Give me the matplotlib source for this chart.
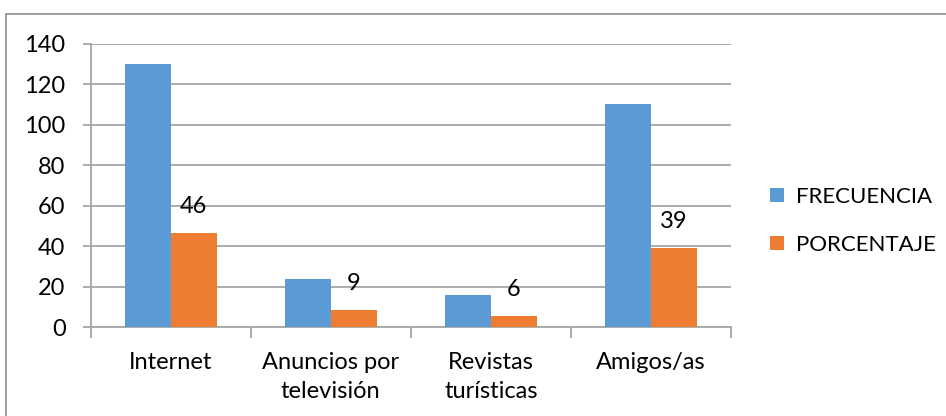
import numpy as np
import matplotlib
matplotlib.use("Agg")
import matplotlib.pyplot as plt
from matplotlib.patches import Rectangle

categories = ["Internet", "Anuncios por\ntelevisión", "Revistas\nturísticas", "Amigos/as"]
frecuencia = [130, 24, 16, 110]
porcentaje = [46.4, 8.6, 5.7, 39.3]
yticks = [0, 20, 40, 60, 80, 100, 120, 140]

plt.rcParams['font.family'] = ['Lato', 'DejaVu Sans']

blue = "#5B9BD5"
orange = "#ED7D31"
grid_c = "#A6A6A6"
fs = 17

fig = plt.figure(figsize=(9.46, 4.16), dpi=100)
ax = fig.add_axes([0.0957, 0.2132, 0.677, 0.6818])

x = np.arange(len(categories))
w = 0.2875
ax.bar(x - w/2, frecuencia, w, color=blue, label="FRECUENCIA", zorder=3)
ax.bar(x + w/2, porcentaje, w, color=orange, label="PORCENTAJE", zorder=3)

for xi, v in zip(x, porcentaje):
    ax.annotate(f"{v:.0f}", (xi + w/2, v), xytext=(0, 19), textcoords="offset points",
                ha="center", va="center", fontsize=fs, color="black")

ax.set_xlim(-0.5, len(categories) - 0.5)
ax.set_ylim(0, 140)
ax.set_yticks(yticks)
ax.set_yticklabels([str(t) for t in yticks], fontsize=fs)
ax.yaxis.grid(True, color=grid_c, linewidth=1.3, zorder=0)
ax.set_axisbelow(True)

# category ticks at boundaries, labels at centers
ax.set_xticks(np.arange(-0.5, len(categories)), minor=False)
ax.set_xticklabels([])
ax.set_xticks(x, minor=True)
ax.set_xticklabels(categories, minor=True, fontsize=fs, linespacing=1.45)
ax.tick_params(axis="x", which="major", length=8, color=grid_c, width=1.3)
ax.tick_params(axis="x", which="minor", length=0, pad=18)
ax.tick_params(axis="y", length=6, color=grid_c, width=1.3, pad=12)

for s in ["top", "right"]:
    ax.spines[s].set_visible(False)
ax.spines["left"].set_color(grid_c)
ax.spines["bottom"].set_color(grid_c)
ax.spines["left"].set_linewidth(1.3)
ax.spines["bottom"].set_linewidth(1.3)

ax.legend(loc="center left", bbox_to_anchor=(1.03, 0.375), frameon=False, fontsize=16,
          handlelength=0.6, handleheight=0.6, handletextpad=0.55, labelspacing=1.25)

# outer chart frame
fig.add_artist(Rectangle((5.5/946, -0.1), 2, 1.1 - 14.5/416, transform=fig.transFigure,
                         fill=False, edgecolor="#8C8C8C", linewidth=1.2))

fig.savefig("out.png", dpi=100)
